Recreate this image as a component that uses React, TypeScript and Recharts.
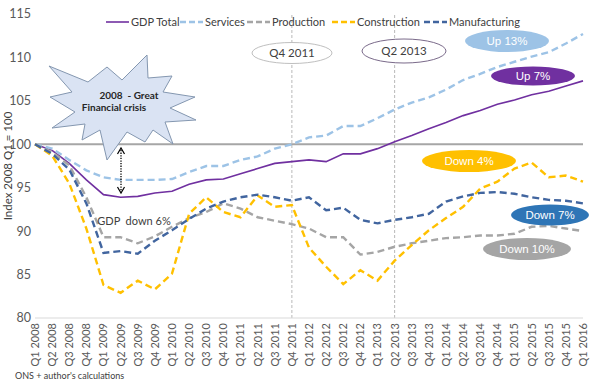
import React from 'react';
import { LineChart, Line, XAxis, YAxis, ReferenceLine } from 'recharts';

const quarters = [
  'Q1 2008','Q2 2008','Q3 2008','Q4 2008','Q1 2009','Q2 2009','Q3 2009','Q4 2009',
  'Q1 2010','Q2 2010','Q3 2010','Q4 2010','Q1 2011','Q2 2011','Q3 2011','Q4 2011',
  'Q1 2012','Q2 2012','Q3 2012','Q4 2012','Q1 2013','Q2 2013','Q3 2013','Q4 2013',
  'Q1 2014','Q2 2014','Q3 2014','Q4 2014','Q1 2015','Q2 2015','Q3 2015','Q4 2015','Q1 2016',
];

const gdpTotal = [100, 99.3, 97.8, 95.9, 94.2, 93.9, 94.0, 94.4, 94.6, 95.4, 95.9, 96.0, 96.6, 97.2, 97.8, 98.0,
  98.2, 98.0, 98.9, 98.9, 99.5, 100.3, 101.0, 101.8, 102.5, 103.3, 103.9, 104.6, 105.1, 105.7, 106.1, 106.7, 107.3];
const services = [100, 99.5, 98.2, 97.0, 96.2, 95.9, 95.9, 95.9, 96.0, 96.8, 97.5, 97.5, 98.2, 98.6, 99.5, 100.0,
  100.8, 101.0, 102.1, 102.1, 103.0, 104.0, 104.8, 105.4, 106.3, 107.4, 108.1, 108.9, 109.5, 110.1, 110.6, 111.6, 112.7];
const production = [100, 99.1, 97.6, 93.9, 89.3, 89.3, 88.6, 89.4, 90.5, 91.5, 92.2, 93.2, 92.6, 91.6, 91.2, 90.8,
  90.3, 89.3, 89.3, 87.3, 87.6, 88.2, 88.6, 88.9, 89.2, 89.3, 89.5, 89.5, 89.7, 90.5, 90.6, 90.3, 90.0];
const construction = [100, 98.7, 95.5, 90.3, 83.8, 82.9, 84.3, 83.3, 85.1, 92.0, 93.9, 92.2, 91.6, 94.1, 92.8, 93.0,
  88.1, 85.9, 83.9, 85.5, 84.3, 86.6, 88.4, 90.1, 91.5, 92.8, 94.9, 95.7, 97.2, 97.9, 96.2, 96.4, 95.7];
const manufacturing = [100, 98.9, 97.1, 93.2, 87.5, 87.7, 87.4, 88.9, 90.1, 91.4, 92.6, 93.4, 93.9, 94.2, 93.9, 93.5,
  93.9, 92.4, 92.7, 91.3, 90.9, 91.3, 91.6, 92.0, 93.4, 94.0, 94.4, 94.5, 94.3, 93.9, 93.6, 93.5, 93.2];

const yTicks = [80, 85, 90, 95, 100, 105, 110, 115];

const seriesNames = ['GDP Total', 'Services', 'Production', 'Construction', 'Manufacturing'];
const seriesKeys = ['gdp', 'services', 'production', 'construction', 'manufacturing'];
const seriesColors = ['#7030a0', '#9dc3e6', '#a5a5a5', '#ffc000', '#41659f'];

const data = quarters.map((q, i) => ({
  q,
  gdp: gdpTotal[i],
  services: services[i],
  production: production[i],
  construction: construction[i],
  manufacturing: manufacturing[i],
}));

const FONT = 'Lato, "Liberation Sans", sans-serif';
const ARIAL = '"Liberation Sans", Arial, sans-serif';
const PRE: any = { whiteSpace: 'pre' };

const XTick = (props: any) => {
  const { x, y, payload } = props;
  return (
    <text
      x={x}
      y={y}
      transform={`rotate(-90 ${x} ${y})`}
      textAnchor="end"
      dy="0.36em"
      fontSize={11}
      fill="#595959"
      fontFamily={FONT}
    >
      {payload.value}
    </text>
  );
};

// legend item positions (line start x) for the overlay legend
const legendX = [106, 180, 247, 332, 424];

const starPoints = [
  [49, 66], [88, 82], [107, 67], [122, 80], [147, 55], [148, 78], [172, 76], [163, 92],
  [195, 97], [170, 108], [196, 120], [165, 122], [173, 144], [153, 130], [145, 142], [127, 132],
  [107, 160], [100, 130], [82, 140], [85, 124], [52, 128], [75, 112], [50, 97], [72, 92],
];

const Ellipse = ({ cx, cy, rx, ry, fill, stroke, text, color, font }: any) => (
  <g>
    <ellipse cx={cx} cy={cy} rx={rx} ry={ry} fill={fill} stroke={stroke || 'none'} strokeWidth={1} />
    <text x={cx} y={cy} dy="0.36em" textAnchor="middle" fontSize={11.5} fill={color} fontFamily={font || ARIAL}>
      {text}
    </text>
  </g>
);

export default function App() {
  return (
    <div style={{ position: 'absolute', left: 0, top: 0, width: 600, height: 383, background: '#fff' }}>
      <LineChart width={600} height={383} data={data} margin={{ top: 14, right: 17, bottom: 15, left: 0 }}>
        <XAxis
          dataKey="q"
          interval={0}
          height={50}
          tickSize={0}
          tickMargin={5}
          tick={<XTick />}
          axisLine={{ stroke: '#d9d9d9' }}
          tickLine={false}
        />
        <YAxis
          domain={[80, 115]}
          ticks={yTicks}
          width={35}
          axisLine={false}
          tickLine={false}
          tickSize={0}
          tickMargin={4}
          tick={{ fontSize: 12.5, fill: '#595959', fontFamily: FONT }}
        />
        <ReferenceLine y={100} stroke="#a6a6a6" strokeWidth={2} />
        <ReferenceLine x="Q4 2011" stroke="#a6a6a6" strokeWidth={0.8} strokeDasharray="3 2" segment={[{ x: 'Q4 2011', y: 108.2 }, { x: 'Q4 2011', y: 80 }]} />
        <ReferenceLine x="Q2 2013" stroke="#a6a6a6" strokeWidth={0.8} strokeDasharray="3 2" segment={[{ x: 'Q2 2013', y: 108.2 }, { x: 'Q2 2013', y: 80 }]} />
        {seriesKeys.map((k, i) => (
          <Line
            key={k}
            type="linear"
            dataKey={k}
            name={seriesNames[i]}
            stroke={seriesColors[i]}
            strokeWidth={i === 0 ? 1.6 : 2.4}
            strokeDasharray={i === 0 ? undefined : '7 4'}
            dot={false}
            activeDot={false}
            isAnimationActive={false}
          />
        ))}
      </LineChart>
      <svg width={600} height={383} style={{ position: 'absolute', left: 0, top: 0, pointerEvents: 'none' }}>
        {seriesNames.map((n, i) => (
          <g key={n}>
            <line
              x1={legendX[i]}
              x2={legendX[i] + 23}
              y1={22}
              y2={22}
              stroke={seriesColors[i]}
              strokeWidth={i === 0 ? 1.6 : 2.4}
              strokeDasharray={i === 0 ? undefined : '6 3'}
            />
            <text x={legendX[i] + 25} y={22} dy="0.36em" fontSize={11} fill="#404040" fontFamily={FONT}>
              {n}
            </text>
          </g>
        ))}
        <text
          x={8}
          y={166}
          transform="rotate(-90 8 166)"
          textAnchor="middle"
          dy="0.36em"
          fontSize={11.5}
          fill="#404040"
          fontFamily={FONT}
        >
          Index 2008 Q1 = 100
        </text>
        <polygon points={starPoints.map((p) => p.join(',')).join(' ')} fill="#dae3f3" stroke="#8497b0" strokeWidth={1} />
        <text x={129} y={95} textAnchor="middle" dy="0.36em" fontSize={10} fontWeight="bold" fill="#262626" fontFamily={FONT} style={PRE}>
          2008  - Great
        </text>
        <text x={114} y={107} textAnchor="middle" dy="0.36em" fontSize={10} fontWeight="bold" fill="#262626" fontFamily={FONT}>
          Financial crisis
        </text>
        <line x1={121} y1={150} x2={121} y2={191} stroke="#000" strokeWidth={1.3} strokeDasharray="1.3 1.3" />
        <path d="M117.5,154 L121,148 L124.5,154" fill="none" stroke="#000" strokeWidth={1.2} />
        <path d="M117.5,187 L121,193 L124.5,187" fill="none" stroke="#000" strokeWidth={1.2} />
        <text x={134} y={221} textAnchor="middle" dy="0.36em" fontSize={11} fill="#404040" fontFamily={FONT} style={PRE}>
          GDP  down 6%
        </text>
        <Ellipse cx={292} cy={53} rx={40} ry={10.5} fill="#fff" stroke="#bfbfbf" text="Q4 2011" color="#404040" font={FONT} />
        <Ellipse cx={404} cy={51} rx={42} ry={12} fill="#fff" stroke="#7a6a8a" text="Q2 2013" color="#404040" font={FONT} />
        <Ellipse cx={507} cy={41} rx={42} ry={11} fill="#9dc3e6" text="Up 13%" color="#fff" />
        <Ellipse cx={533} cy={76} rx={42} ry={9.5} fill="#7030a0" text="Up 7%" color="#fff" />
        <Ellipse cx={469} cy={161} rx={47} ry={11} fill="#ffc000" text="Down 4%" color="#fff" />
        <Ellipse cx={550} cy={215} rx={39} ry={10.5} fill="#2e75b6" text="Down 7%" color="#fff" />
        <Ellipse cx={527} cy={249} rx={44} ry={11} fill="#a5a5a5" text="Down 10%" color="#fff" />
        <text x={15} y={376} dy="0.36em" fontSize={9} fill="#404040" fontFamily={FONT}>
          ONS + author's calculations
        </text>
      </svg>
    </div>
  );
}
